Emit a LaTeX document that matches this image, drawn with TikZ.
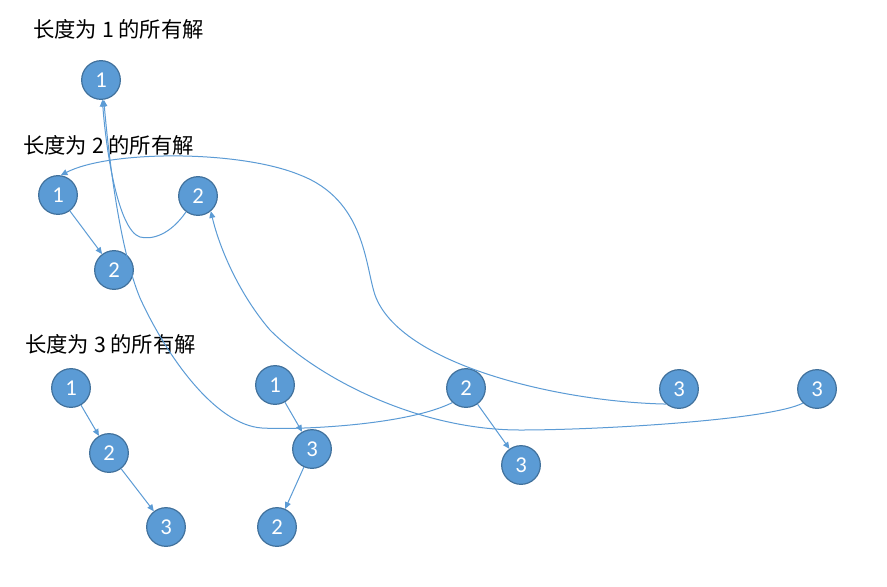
\documentclass[tikz,border=0pt]{standalone}
\usepackage{fontspec}
\setmainfont{Carlito}
\newfontfamily\cjk{Noto Sans CJK SC}
\usetikzlibrary{arrows.meta,backgrounds}
\definecolor{nodefill}{HTML}{5B9BD5}
\definecolor{nodeedge}{HTML}{41719C}
\definecolor{linkcol}{HTML}{5B9BD5}
\begin{document}
\begin{tikzpicture}[x=0.75pt,y=-0.75pt,
  numnode/.style={circle,fill=nodefill,draw=nodeedge,line width=0.9pt,minimum size=29pt,inner sep=0pt,text=white,font=\fontsize{17}{17}\selectfont},
  titletext/.style={anchor=west,inner sep=0pt,font=\cjk\fontsize{16}{16}\selectfont},
  link/.style={draw=linkcol,line width=0.75pt,-{Triangle[length=5pt,width=4.5pt]}}]
\useasboundingbox (0,0) rectangle (887,586);

\node[titletext] (t1) at (33,29) {长度为 1 的所有解};
\node[titletext] (t2) at (23,145) {长度为 2 的所有解};
\node[titletext] (t3) at (25,344) {长度为 3 的所有解};

\node[numnode] (a1) at (101,80) {1};
\node[numnode] (b1) at (58,195) {1};
\node[numnode] (b2r) at (198,196) {2};
\node[numnode] (b2) at (114,270) {2};
\node[numnode] (c1) at (71,388) {1};
\node[numnode] (c2) at (109,453) {2};
\node[numnode] (c3) at (166,527) {3};
\node[numnode] (d1) at (275,385) {1};
\node[numnode] (d3) at (312,449) {3};
\node[numnode] (d2) at (277,527) {2};
\node[numnode] (e2) at (466,388) {2};
\node[numnode] (e3) at (521,465) {3};
\node[numnode] (f3) at (679,389) {3};
\node[numnode] (g3) at (817,389) {3};

\begin{scope}[on background layer]
\fill[white] (0,0) rectangle (887,586);
\end{scope}

\draw[link] (b1) -- (b2);
\draw[link] (c1) -- (c2);
\draw[link] (c2) -- (c3);
\draw[link] (d1) -- (d3);
\draw[link] (d3) -- (d2);
\draw[link] (e2) -- (e3);
% 2 -> 1 (length 2 second tree)
\draw[link] (b2r.233) .. controls (170,235) and (152,240) .. (140,237)
  .. controls (118,230) and (106,150) .. (a1.-86);
% e2 -> a1 long curve
\draw[link] (e2.227) .. controls (405,426) and (295,430) .. (262,428)
  .. controls (215,425) and (166,355) .. (140,298)
  .. controls (120,250) and (109,160) .. (a1.-82);
% g3 -> b2r
\draw[link] (g3.225) .. controls (770,420) and (600,430) .. (520,430)
  .. controls (420,430) and (320,380) .. (270,330)
  .. controls (240,295) and (220,250) .. (b2r.-50);
% f3 -> b1
\draw[link] (f3.229) .. controls (560,402) and (400,365) .. (375,295)
  .. controls (365,265) and (365,200) .. (300,175)
  .. controls (240,150) and (110,150) .. (b1.82);
\end{tikzpicture}
\end{document}
